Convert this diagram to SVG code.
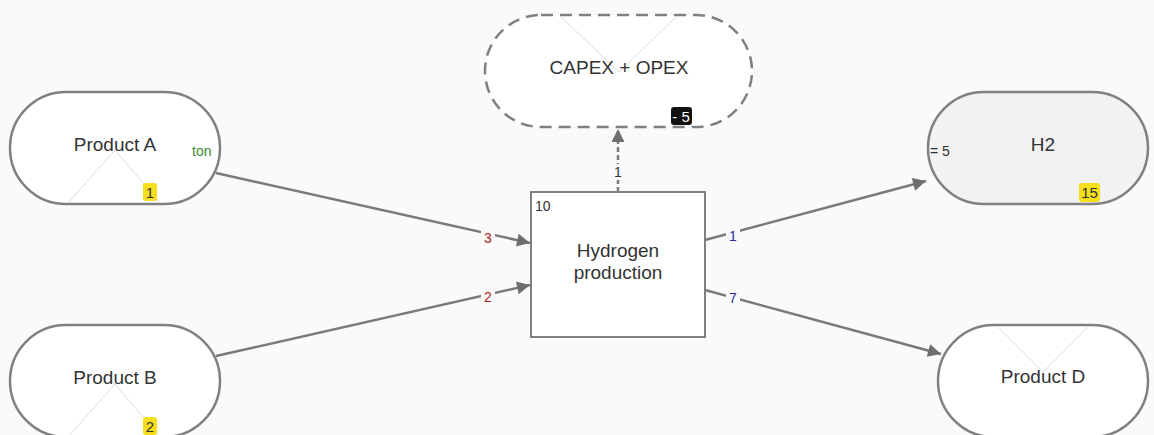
<svg xmlns="http://www.w3.org/2000/svg" width="1154" height="435" viewBox="0 0 1154 435">
  <style>
    .bg { fill: #fafafa; }
    .stock { fill: #ffffff; stroke: #808080; stroke-width: 2.5; }
    .stock-alt { fill: #f2f2f2; stroke: #808080; stroke-width: 2.5; }
    .cost { fill: #ffffff; stroke: #808080; stroke-width: 2.5; stroke-dasharray: 12 7; }
    .process { fill: #ffffff; stroke: #808080; stroke-width: 2; }
    .tri { fill: none; stroke: #dcdcdc; stroke-width: 1; }
    .name { font-family: Arial, "Liberation Sans", sans-serif; font-size: 19px; fill: #333333; text-anchor: middle; }
    .small { font-family: Arial, "Liberation Sans", sans-serif; font-size: 14px; fill: #333333; }
    .unit { font-family: Arial, "Liberation Sans", sans-serif; font-size: 14px; fill: #3a8a3a; }
    .badge-y { fill: #f7de1a; }
    .badge-k { fill: #111111; }
    .badge-text { font-family: Arial, "Liberation Sans", sans-serif; font-size: 15px; text-anchor: middle; }
    .flow { stroke: #7a7a7a; stroke-width: 2.5; fill: none; }
    .flow-dash { stroke: #7a7a7a; stroke-width: 2.5; fill: none; stroke-dasharray: 5 3; }
    .lbl-bg { fill: #fafafa; }
    .lbl { font-family: Arial, "Liberation Sans", sans-serif; font-size: 14px; text-anchor: middle; }
    .in { fill: #b22222; }
    .out { fill: #2b2b9a; }
  </style>
  <defs>
    <marker id="arrow" viewBox="0 0 10 10" refX="10" refY="5" markerWidth="6.5" markerHeight="5.2" markerUnits="strokeWidth" orient="auto">
      <path d="M0,0 L10,5 L0,10 z" fill="#6e6e6e"/>
    </marker>
  </defs>

  <rect class="bg" x="0" y="0" width="1154" height="435"/>

  <!-- flows -->
  <g id="connectors">
    <line class="flow" x1="216" y1="173" x2="530" y2="243" marker-end="url(#arrow)"/>
    <line class="flow" x1="216" y1="356" x2="530" y2="285" marker-end="url(#arrow)"/>
    <line class="flow" x1="705" y1="240" x2="926" y2="181" marker-end="url(#arrow)"/>
    <line class="flow" x1="705" y1="290" x2="941" y2="354" marker-end="url(#arrow)"/>
    <line class="flow-dash" x1="618" y1="192" x2="618" y2="129" marker-end="url(#arrow)"/>

    <rect class="lbl-bg" x="481" y="230" width="14" height="16"/>
    <text class="lbl in" x="488" y="243">3</text>
    <rect class="lbl-bg" x="481" y="290" width="14" height="16"/>
    <text class="lbl in" x="488" y="302">2</text>
    <rect class="lbl-bg" x="726" y="228" width="14" height="16"/>
    <text class="lbl out" x="733" y="241">1</text>
    <rect class="lbl-bg" x="726" y="291" width="14" height="16"/>
    <text class="lbl out" x="733" y="303">7</text>
    <rect class="lbl-bg" x="611" y="164" width="14" height="16"/>
    <text class="lbl" x="618" y="177" fill="#333333">1</text>
  </g>

  <g id="product-a">
    <rect class="stock" x="10" y="92" width="210" height="112" rx="56" ry="56"/>
    <polyline class="tri" points="68,203 115,150 160,203"/>
    <text class="name" x="115" y="151">Product A</text>
    <text class="unit" x="192" y="156">ton</text>
    <rect class="badge-y" x="143" y="183" width="14" height="18" rx="3"/>
    <text class="badge-text" x="150" y="198" fill="#333333">1</text>
  </g>

  <g id="product-b">
    <rect class="stock" x="10" y="325" width="210" height="112" rx="56" ry="56"/>
    <polyline class="tri" points="68,437 115,384 160,437"/>
    <text class="name" x="115" y="384">Product B</text>
    <rect class="badge-y" x="143" y="417" width="14" height="18" rx="3"/>
    <text class="badge-text" x="150" y="432" fill="#333333">2</text>
  </g>

  <g id="capex-opex">
    <rect class="cost" x="485" y="15" width="267" height="112" rx="56" ry="56"/>
    <polyline class="tri" points="560,16 619,72 677,16"/>
    <text class="name" x="619" y="74">CAPEX + OPEX</text>
    <rect class="badge-k" x="671" y="107" width="21" height="18" rx="3"/>
    <text class="badge-text" x="681" y="122" fill="#ffffff">- 5</text>
  </g>

  <g id="hydrogen-production">
    <rect class="process" x="531" y="192" width="174" height="145"/>
    <text class="small" x="535" y="211">10</text>
    <text class="name" x="618" y="257">Hydrogen</text>
    <text class="name" x="618" y="279">production</text>
  </g>

  <g id="h2">
    <rect class="stock-alt" x="928" y="92" width="220" height="112" rx="56" ry="56"/>
    <text class="name" x="1043" y="151">H2</text>
    <text class="small" x="930" y="156">= 5</text>
    <rect class="badge-y" x="1079" y="183" width="21" height="19" rx="3"/>
    <text class="badge-text" x="1089.5" y="198" fill="#333333">15</text>
  </g>

  <g id="product-d">
    <rect class="stock" x="938" y="325" width="210" height="112" rx="56" ry="56"/>
    <polyline class="tri" points="997,326 1043,372 1089,326"/>
    <text class="name" x="1043" y="383">Product D</text>
  </g>
</svg>
